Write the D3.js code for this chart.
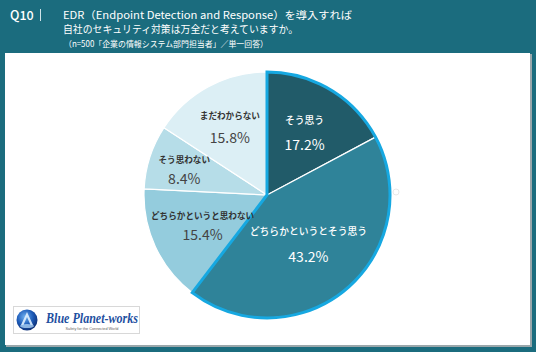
<!DOCTYPE html>
<html><head><meta charset="utf-8">
<script src="https://cdn.jsdelivr.net/npm/d3@7"></script>
<style>html,body{margin:0;padding:0;background:#1b6c7e;}svg{display:block;}</style>
</head><body>
<script>
// ---- data ----
const categories = ["そう思う","どちらかというとそう思う","どちらかというと思わない","そう思わない","まだわからない"];
const values = [17.2, 43.2, 15.4, 8.4, 15.8];
const highlighted = [true, true, false, false, false];
const titleLines = ["EDR（Endpoint Detection and Response）を導入すれば","自社のセキュリティ対策は万全だと考えていますか。"];
const subtitle = "（n=500「企業の情報システム部門担当者」／単一回答）";
const questionNo = "Q10";

// ---- style / layout ----
const W = 536, H = 352;
const colors = ["#215b69","#2f8399","#94ccdd","#b6dde8","#dcEFF5"];
const textColors = ["#ffffff","#ffffff","#333333","#333333","#333333"];
const labelRadius = [73, 64, 71, 87, 78];
const labelGap = [24, 25, 19, 19, 22];
const cx = 267, cy = 195, R = 123;

const svg = d3.select("body").append("svg").attr("width", W).attr("height", H);
const FONT = "'Noto Sans CJK JP','Noto Sans',sans-serif";

svg.append("rect").attr("width", W).attr("height", H).attr("fill", "#1b6c7e");
// panel shadow + panel
svg.append("rect").attr("x", 6).attr("y", 54).attr("width", 526).attr("height", 293).attr("fill", "#9aa7ab");
svg.append("rect").attr("x", 5).attr("y", 53).attr("width", 525).attr("height", 292).attr("fill", "#ffffff");

// header
svg.append("text").attr("x", 10).attr("y", 20).attr("fill", "#fff")
  .attr("font-family", FONT).attr("font-size", 12.5).attr("font-weight", 500).text(questionNo);
svg.append("line").attr("x1", 40.5).attr("x2", 40.5).attr("y1", 9).attr("y2", 21)
  .attr("stroke", "#cfe3e8").attr("stroke-width", 1);
const titleWidths = [289, 235];
titleLines.forEach((t, i) => {
  svg.append("text").attr("x", 63).attr("y", 18.5 + i * 14).attr("fill", "#fff")
    .attr("font-family", FONT).attr("font-size", 10.5)
    .attr("textLength", titleWidths[i]).attr("lengthAdjust", "spacingAndGlyphs").text(t);
});
svg.append("text").attr("x", 64).attr("y", 47).attr("fill", "#fff")
  .attr("font-family", FONT).attr("font-size", 8.5)
  .attr("textLength", 204).attr("lengthAdjust", "spacingAndGlyphs").text(subtitle);

// pie
const pie = d3.pie().sort(null).value(d => d.v).startAngle(0).endAngle(2 * Math.PI);
const data = pie(categories.map((c, i) => ({ c, v: values[i], i })));
const arc = d3.arc().innerRadius(0).outerRadius(R);
const g = svg.append("g").attr("transform", `translate(${cx},${cy})`);

g.selectAll("path.slice").data(data).join("path").attr("class", "slice")
  .attr("d", arc).attr("fill", d => colors[d.data.i])
  .attr("stroke", "#fff").attr("stroke-width", 1.2).attr("stroke-linejoin", "round");

// highlight outline around highlighted slices
const hl = data.filter(d => highlighted[d.data.i]);
if (hl.length) {
  const hArc = { startAngle: d3.min(hl, d => d.startAngle), endAngle: d3.max(hl, d => d.endAngle) };
  g.append("path").attr("d", arc(hArc)).attr("fill", "none")
    .attr("stroke", "#16a8e1").attr("stroke-width", 3).attr("stroke-linejoin", "miter");
}

// labels
data.forEach(d => {
  const i = d.data.i;
  const a = (d.startAngle + d.endAngle) / 2;
  const r = labelRadius[i];
  const x = Math.sin(a) * r, y = -Math.cos(a) * r;
  const white = textColors[i] === "#ffffff";
  g.append("text").attr("x", x).attr("y", y - labelGap[i] / 2)
    .attr("text-anchor", "middle").attr("dominant-baseline", "central")
    .attr("font-family", FONT).attr("font-size", white ? 9.8 : 8.6)
    .attr("font-weight", white ? 500 : 700)
    .attr("fill", textColors[i]).text(categories[i]);
  g.append("text").attr("x", x).attr("y", y + labelGap[i] / 2)
    .attr("text-anchor", "middle").attr("dominant-baseline", "central")
    .attr("font-family", FONT).attr("font-size", 14)
    .attr("fill", white ? "#ffffff" : "#444444").text(d3.format(".1f")(values[i]) + "%");
});

// faint marker
svg.append("circle").attr("cx", 396).attr("cy", 192).attr("r", 3).attr("fill", "none")
  .attr("stroke", "#e2e2e2").attr("stroke-width", 0.8);

// logo
const logo = svg.append("g");
logo.append("rect").attr("x", 13.5).attr("y", 306.5).attr("width", 126).attr("height", 27)
  .attr("fill", "#fff").attr("stroke", "#d8d8d8");
const defs = svg.append("defs");
const grad = defs.append("radialGradient").attr("id", "globe").attr("cx", "40%").attr("cy", "35%").attr("r", "70%");
grad.append("stop").attr("offset", "0%").attr("stop-color", "#6fb0f0");
grad.append("stop").attr("offset", "55%").attr("stop-color", "#1d5bb8");
grad.append("stop").attr("offset", "100%").attr("stop-color", "#0b2a6e");
logo.append("circle").attr("cx", 27).attr("cy", 320).attr("r", 10.5).attr("fill", "url(#globe)");
logo.append("path").attr("d", "M27,312 L21,325 L23.5,325 L27,317 L30.5,325 L33,325 Z").attr("fill", "#dfefff").attr("opacity", 0.9);
logo.append("ellipse").attr("cx", 27).attr("cy", 326).attr("rx", 7).attr("ry", 2).attr("fill", "#bfe3ff").attr("opacity", 0.7);
logo.append("text").attr("x", 46).attr("y", 322.5).attr("fill", "#1e4f9f")
  .attr("font-family", "'Liberation Serif','DejaVu Serif',serif").attr("font-style", "italic").attr("font-weight", 700)
  .attr("font-size", 14).attr("textLength", 92).attr("lengthAdjust", "spacingAndGlyphs").text("Blue Planet-works");
logo.append("text").attr("x", 92).attr("y", 329.5).attr("fill", "#666").attr("text-anchor", "middle")
  .attr("font-family", "'Liberation Sans',sans-serif").attr("font-size", 3.8).text("Safety for the Connected World");
</script>
</body></html>
